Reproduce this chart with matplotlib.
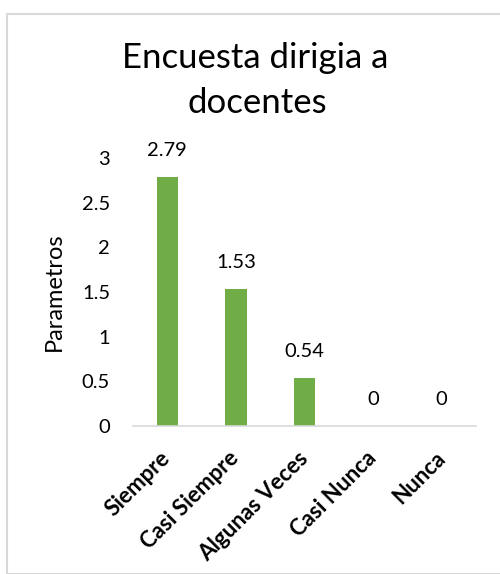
import matplotlib
matplotlib.use("Agg")
import matplotlib.pyplot as plt
from matplotlib.patches import Rectangle

categories = ["Siempre", "Casi Siempre", "Algunas Veces", "Casi Nunca", "Nunca"]
values = [2.79, 1.53, 0.54, 0, 0]
value_labels = ["2.79", "1.53", "0.54", "0", "0"]
yticks = [0, 0.5, 1, 1.5, 2, 2.5, 3]
ytick_labels = ["0", "0.5", "1", "1.5", "2", "2.5", "3"]
title_lines = ["Encuesta dirigia a", "docentes"]

plt.rcParams['font.family'] = ['Lato', 'DejaVu Sans']

W, H = 500, 574
fig = plt.figure(figsize=(W/100, H/100), dpi=100)

# outer chart border
fig.patches.append(Rectangle((6.5/W, 0), 1.2, 1 - 13.5/H, transform=fig.transFigure,
                             fill=False, edgecolor='#d9d9d9', linewidth=1.5))

ax = fig.add_axes([133/W, 1 - 426/H, (476-133)/W, (426-158)/H])
x = range(len(categories))
ax.bar(x, values, width=0.31, color='#70ad47')
ax.set_xlim(-0.5, len(categories) - 0.5)
ax.set_ylim(0, 3)
ax.set_yticks(yticks)
ax.set_yticklabels(ytick_labels, fontsize=14.5, color='#000000')
ax.tick_params(axis='y', length=0, pad=16.5)
ax.tick_params(axis='x', length=0, pad=21)
ax.set_xticks(list(x))
ax.set_xticklabels(categories, rotation=45, ha='right', va='center',
                   rotation_mode='anchor', fontsize=16, fontweight='bold')
for s in ['top', 'right', 'left']:
    ax.spines[s].set_visible(False)
ax.spines['bottom'].set_color('#d9d9d9')
ax.spines['bottom'].set_linewidth(1.2)

for xi, v, lab in zip(x, values, value_labels):
    ax.annotate(lab, (xi, v), xytext=(0, 13), textcoords='offset points',
                ha='center', va='bottom', fontsize=14.5)

ax.set_ylabel("Parametros", fontsize=17, labelpad=12)

fig.text(255/W, 1 - 68/H, title_lines[0], ha='center', va='baseline', fontsize=25)
fig.text(257/W, 1 - 113/H, title_lines[1], ha='center', va='baseline', fontsize=25)

fig.savefig("out.png", dpi=100)
